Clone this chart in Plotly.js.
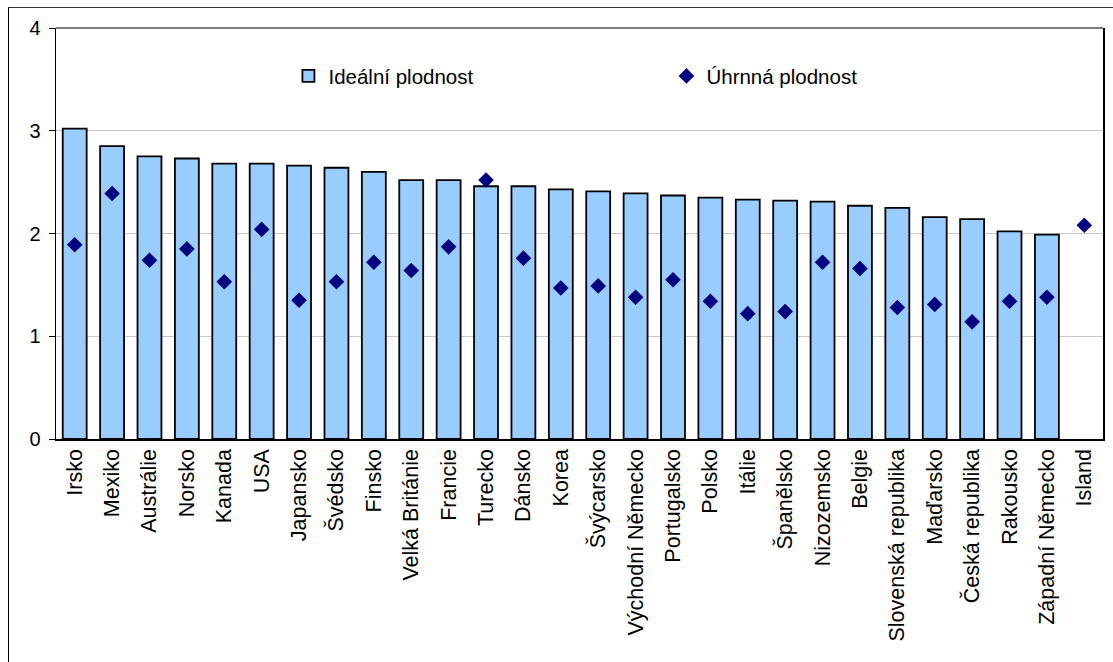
<!DOCTYPE html>
<html>
<head>
<meta charset="utf-8">
<script src="https://cdn.plot.ly/plotly-3.0.1.min.js"></script>
<style>
  html, body { margin: 0; padding: 0; background: #ffffff; }
  #wrap { position: relative; width: 1113px; height: 662px; overflow: hidden; }
  #chart { position: absolute; left: 0; top: 0; width: 1113px; height: 662px; }
  #frame { position: absolute; left: 8px; top: 7px; width: 1200px; height: 700px;
           border-left: 1px solid #000; border-top: 1px solid #333; pointer-events: none; }
</style>
</head>
<body>
<div id="wrap">
  <div id="chart"></div>
  <div id="frame"></div>
</div>
<script>
const countries = ["Irsko", "Mexiko", "Austrálie", "Norsko", "Kanada", "USA", "Japansko", "Švédsko",
  "Finsko", "Velká Británie", "Francie", "Turecko", "Dánsko", "Korea", "Švýcarsko",
  "Východní Německo", "Portugalsko", "Polsko", "Itálie", "Španělsko", "Nizozemsko", "Belgie",
  "Slovenská republika", "Maďarsko", "Česká republika", "Rakousko", "Západní Německo", "Island"];

const idealFertility = [3.02, 2.85, 2.75, 2.73, 2.68, 2.68, 2.66, 2.64, 2.60, 2.52, 2.52, 2.46, 2.46, 2.43,
  2.41, 2.39, 2.37, 2.35, 2.33, 2.32, 2.31, 2.27, 2.25, 2.16, 2.14, 2.02, 1.99, null];

const totalFertility = [1.89, 2.39, 1.74, 1.85, 1.53, 2.04, 1.35, 1.53, 1.72, 1.64, 1.87, 2.52, 1.76, 1.47,
  1.49, 1.38, 1.55, 1.34, 1.22, 1.24, 1.72, 1.66, 1.28, 1.31, 1.14, 1.34, 1.38, 2.08];

const yTicks = [0, 1, 2, 3, 4];

const FONT = "Liberation Sans, Arial, sans-serif";

const traces = [
  {
    type: "bar",
    name: "Ideální plodnost",
    x: countries,
    y: idealFertility,
    marker: { color: "#99ccff", line: { color: "#000000", width: 1.8 } },
    hoverinfo: "x+y"
  },
  {
    type: "scatter",
    mode: "markers",
    name: "Úhrnná plodnost",
    x: countries,
    y: totalFertility,
    marker: { symbol: "diamond", color: "#000080", size: 12 },
    hoverinfo: "x+y"
  }
];

const layout = {
  width: 1113,
  height: 662,
  margin: { l: 56, r: 10, t: 28, b: 223, pad: 0 },
  paper_bgcolor: "rgba(0,0,0,0)",
  plot_bgcolor: "#ffffff",
  font: { family: FONT, size: 20, color: "#000000" },
  bargap: 0.36,
  showlegend: true,
  legend: {
    orientation: "h",
    x: 0.222, xanchor: "left",
    y: 0.883, yanchor: "middle",
    font: { family: FONT, size: 20.5, color: "#000000" },
    bgcolor: "rgba(0,0,0,0)",
    entrywidth: 333,
    entrywidthmode: "pixels",
    itemclick: false
  },
  xaxis: {
    type: "category",
    range: [-0.5, countries.length - 0.5],
    showline: true, linecolor: "#000000", linewidth: 1.5,
    mirror: false,
    ticks: "",
    tickangle: -90,
    tickfont: { family: FONT, size: 21.5, color: "#000000" },
    showgrid: false,
    automargin: false,
    fixedrange: true
  },
  yaxis: {
    range: [0, 4],
    tickvals: yTicks,
    ticktext: yTicks.map(String),
    showline: true, linecolor: "#000000", linewidth: 1.5,
    mirror: true,
    ticks: "outside", ticklen: 6, tickcolor: "#000000", tickwidth: 1,
    ticklabelstandoff: 4,
    tickfont: { family: FONT, size: 20, color: "#000000" },
    showgrid: true, gridcolor: "#c8c8c8", gridwidth: 1,
    zeroline: false,
    automargin: false,
    fixedrange: true
  },
  shapes: [
    { type: "line", xref: "paper", yref: "paper", x0: 0, x1: 1, y0: 1, y1: 1,
      line: { color: "#555555", width: 1.5 } }
  ]
};

Plotly.newPlot("chart", traces, layout, { displayModeBar: false, staticPlot: true });
</script>
</body>
</html>
